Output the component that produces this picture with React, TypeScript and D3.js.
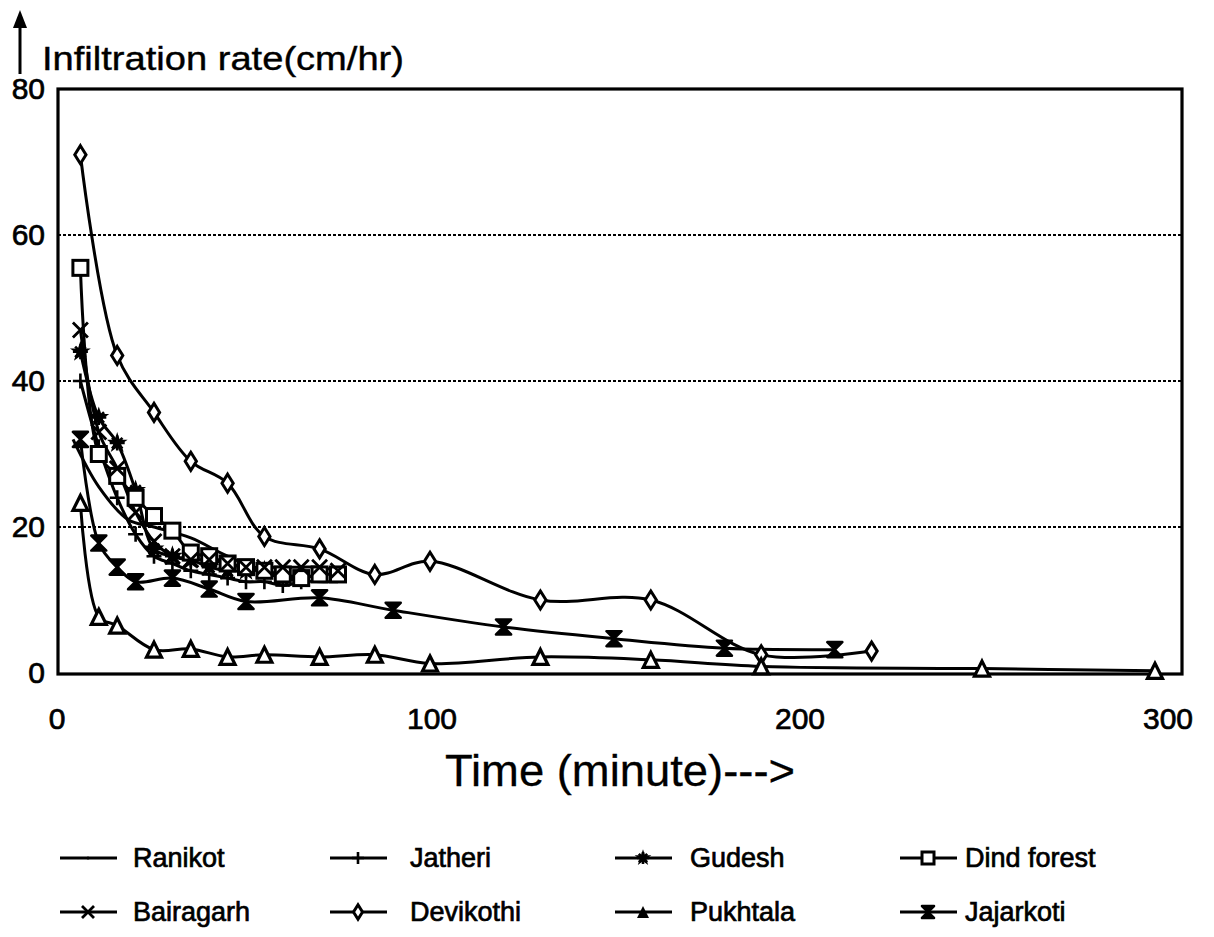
import { useEffect, useRef } from "react";
import * as d3 from "d3";

// data: [time (minute), infiltration rate (cm/hr)]
const ranikot: [number, number][] = [
  [3, 32], [10, 25.5], [18, 21], [25, 20], [35, 18.5], [45, 16], [60, 13], [75, 12.5],
];
const jatheri: [number, number][] = [
  [5, 40], [10, 31], [15, 24], [20, 19], [25, 16], [30, 15], [35, 14], [40, 13.5],
  [45, 13], [50, 12.5], [55, 12.5], [60, 12], [65, 12.5],
];
const gudesh: [number, number][] = [
  [5, 44], [10, 35], [15, 31.5], [20, 25], [25, 17], [30, 16], [35, 15.5], [40, 14.5],
  [45, 14], [50, 14], [55, 14], [60, 13], [65, 13],
];
const dindForest: [number, number][] = [
  [5, 55.5], [10, 30], [15, 27], [20, 24], [25, 21.5], [30, 19.5], [35, 16.5], [40, 16],
  [45, 15], [50, 14.5], [55, 14], [60, 13.5], [65, 13], [70, 13.5], [75, 13.5],
];
const bairagarh: [number, number][] = [
  [5, 47], [10, 33], [15, 28], [20, 22], [25, 18], [30, 16], [35, 15.5], [40, 15.5],
  [45, 15], [50, 14.5], [55, 14.5], [60, 14.5], [65, 14.5], [70, 14.5], [75, 14],
];
const devikothi: [number, number][] = [
  [5, 71], [15, 43.5], [25, 35.7], [35, 29], [45, 26], [55, 18.7], [70, 17], [85, 13.5],
  [100, 15.3], [130, 10], [160, 10], [190, 2.5], [220, 3],
];
const pukhtala: [number, number][] = [
  [5, 23.3], [10, 7.7], [15, 6.5], [25, 3.2], [35, 3.3], [45, 2.2], [55, 2.5], [70, 2.2],
  [85, 2.5], [100, 1.3], [130, 2.2], [160, 1.8], [190, 0.9], [250, 0.6], [297, 0.3],
];
const jajarkoti: [number, number][] = [
  [5, 32], [10, 17.8], [15, 14.5], [20, 12.5], [30, 13], [40, 11.5], [50, 9.8], [70, 10.3],
  [90, 8.6], [120, 6.3], [150, 4.7], [180, 3.4], [210, 3.2],
];

const seriesNames = [
  "Ranikot", "Jatheri", "Gudesh", "Dind forest",
  "Bairagarh", "Devikothi", "Pukhtala", "Jajarkoti",
];
const seriesData = [ranikot, jatheri, gudesh, dindForest, bairagarh, devikothi, pukhtala, jajarkoti];
const seriesMarkers = ["none", "plus", "star", "square", "cross", "diamond", "triangle", "hourglass"];

const yTicks = [0, 20, 40, 60, 80];
const gridTicks = [20, 40, 60];
const xTicks = [0, 100, 200, 300];

const FONT = "'Liberation Sans', Arial, sans-serif";

const drawMarker = (g: d3.Selection<SVGGElement, unknown, null, undefined>, kind: string, s: number) => {
  const h = s / 2;
  if (kind === "plus") {
    g.append("path").attr("d", `M${-h},0H${h}M0,${-h}V${h}`).attr("stroke", "#000").attr("stroke-width", 2.6);
  } else if (kind === "cross") {
    g.append("path").attr("d", `M${-h},${-h}L${h},${h}M${-h},${h}L${h},${-h}`).attr("stroke", "#000").attr("stroke-width", 2.8);
  } else if (kind === "star") {
    g.append("path")
      .attr("d", d3.symbol(d3.symbolStar, s * s * 0.6)() as string)
      .attr("fill", "#000");
    g.append("path")
      .attr("d", `M${-h},0H${h}M0,${-h}V${h}M${-h * 0.7},${-h * 0.7}L${h * 0.7},${h * 0.7}M${-h * 0.7},${h * 0.7}L${h * 0.7},${-h * 0.7}`)
      .attr("stroke", "#000").attr("stroke-width", 2.6);
  } else if (kind === "square") {
    g.append("rect").attr("x", -h).attr("y", -h).attr("width", s).attr("height", s)
      .attr("fill", "#fff").attr("stroke", "#000").attr("stroke-width", 3);
  } else if (kind === "diamond") {
    g.append("path").attr("d", `M0,${-h * 1.2}L${h * 0.75},0L0,${h * 1.2}L${-h * 0.75},0Z`)
      .attr("fill", "#fff").attr("stroke", "#000").attr("stroke-width", 3);
  } else if (kind === "triangle") {
    g.append("path").attr("d", `M0,${-h}L${h},${h}L${-h},${h}Z`)
      .attr("fill", "#fff").attr("stroke", "#000").attr("stroke-width", 3.2);
  } else if (kind === "triangleFilled") {
    g.append("path").attr("d", `M0,${-h}L${h},${h}L${-h},${h}Z`).attr("fill", "#000");
  } else if (kind === "hourglass") {
    g.append("path").attr("d", `M${-h},${-h}H${h}L${-h},${h}H${h}Z`)
      .attr("fill", "#000").attr("stroke", "#000").attr("stroke-width", 2.6).attr("stroke-linejoin", "round");
  } else if (kind === "dot") {
    g.append("circle").attr("r", 1.5).attr("fill", "#000");
  }
};

const App = () => {
  const ref = useRef<SVGSVGElement>(null);
  const width = 1214;
  const height = 937;

  useEffect(() => {
    const svg = d3.select(ref.current);
    svg.selectAll("*").remove();

    const frame = { left: 58, right: 1182, top: 89, bottom: 674 };
    const x = d3.scaleLinear().domain([0, 300]).range([62, 1166]);
    const y = d3.scaleLinear().domain([0, 80]).range([673, 89]);

    svg.append("rect").attr("width", width).attr("height", height).attr("fill", "#fff");

    // dotted grid
    svg.append("g")
      .selectAll("line")
      .data(gridTicks)
      .enter()
      .append("line")
      .attr("x1", frame.left)
      .attr("x2", frame.right)
      .attr("y1", (d) => y(d))
      .attr("y2", (d) => y(d))
      .attr("stroke", "#000")
      .attr("stroke-width", 1.8)
      .attr("stroke-dasharray", "3,2");

    // frame
    svg.append("rect")
      .attr("x", frame.left)
      .attr("y", frame.top)
      .attr("width", frame.right - frame.left)
      .attr("height", frame.bottom - frame.top)
      .attr("fill", "none")
      .attr("stroke", "#000")
      .attr("stroke-width", 3.2);

    const txt = (sel: d3.Selection<SVGTextElement, any, any, any>, size: number) =>
      sel
        .attr("font-family", FONT)
        .attr("font-size", size)
        .attr("fill", "#000")
        .attr("stroke", "#000")
        .attr("stroke-width", 0.7);

    // tick labels
    txt(
      svg.append("g")
        .selectAll("text")
        .data(yTicks)
        .enter()
        .append("text")
        .attr("x", 45)
        .attr("y", (d) => y(d) + 10)
        .attr("text-anchor", "end")
        .text((d) => d),
      30
    );

    txt(
      svg.append("g")
        .selectAll("text")
        .data(xTicks)
        .enter()
        .append("text")
        .attr("x", (d) => (d === 0 ? 57 : x(d) + 2))
        .attr("y", 729)
        .attr("text-anchor", "middle")
        .text((d) => d),
      30
    );

    // axis titles
    txt(
      svg.append("text")
        .attr("x", 620)
        .attr("y", 786)
        .attr("text-anchor", "middle")
        .attr("textLength", 350)
        .attr("lengthAdjust", "spacingAndGlyphs")
        .text("Time (minute)--->"),
      44
    ).attr("stroke-width", 0.3);

    txt(
      svg.append("text")
        .attr("x", 42)
        .attr("y", 70)
        .attr("textLength", 362)
        .attr("lengthAdjust", "spacingAndGlyphs")
        .text("Infiltration rate(cm/hr)"),
      33
    ).attr("stroke-width", 0.4);

    svg.append("path")
      .attr("d", "M20,74V16")
      .attr("stroke", "#000")
      .attr("stroke-width", 3);
    svg.append("path").attr("d", "M13,28L20,10L27,28Z").attr("fill", "#000");

    // lines
    const line = d3
      .line<[number, number]>()
      .x((d) => x(d[0]))
      .y((d) => y(d[1]))
      .curve(d3.curveCatmullRom.alpha(0.5));

    seriesData.forEach((data) => {
      svg.append("path")
        .datum(data)
        .attr("fill", "none")
        .attr("stroke", "#000")
        .attr("stroke-width", 3)
        .attr("d", line);
    });

    seriesData.forEach((data, i) => {
      const kind = seriesMarkers[i];
      if (kind === "none") return;
      data.forEach((d) => {
        const g = svg.append("g").attr("transform", `translate(${x(d[0])},${y(d[1])})`);
        drawMarker(g, kind, 15);
      });
    });

    // legend
    const colX = [60, 330, 615, 900];
    const textX = [133, 410, 690, 965];
    const rowY = [858, 912];
    seriesNames.forEach((name, i) => {
      const col = i % 4;
      const row = Math.floor(i / 4);
      const cy = rowY[row];
      const g = svg.append("g");
      g.append("line")
        .attr("x1", colX[col])
        .attr("x2", colX[col] + 57)
        .attr("y1", cy)
        .attr("y2", cy)
        .attr("stroke", "#000")
        .attr("stroke-width", 3);
      const kind = seriesMarkers[i] === "none" ? "dot" : seriesMarkers[i] === "triangle" ? "triangleFilled" : seriesMarkers[i];
      const mg = g.append("g").attr("transform", `translate(${colX[col] + 28},${cy})`);
      drawMarker(mg, kind, 12);
      txt(
        g.append("text")
          .attr("x", textX[col])
          .attr("y", cy + 9)
          .text(name),
        27
      );
    });
  }, []);

  return <svg ref={ref} width={width} height={height} style={{ display: "block", margin: -8 }} />;
};

export default App;
